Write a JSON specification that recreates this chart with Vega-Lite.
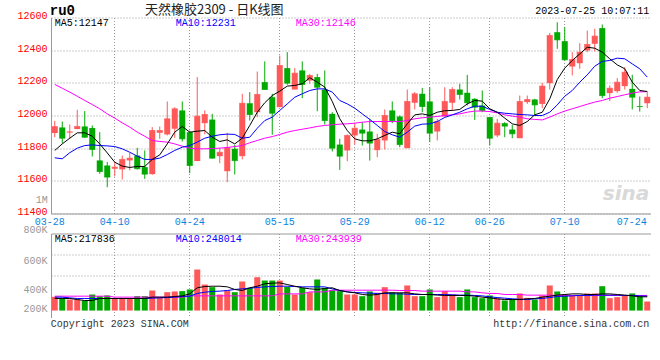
{
  "$schema": "https://vega.github.io/schema/vega-lite/v6.json",
  "background": "white",
  "padding": {"left": 16, "top": 3.5, "right": 0, "bottom": 0},
  "bounds": "flush",
  "spacing": 20,
  "config": {"view": {"stroke": null}, "text": {"font": "Liberation Mono", "fontSize": 10}},
  "datasets": {
    "k": [
      {"d":"03-28","o":11893,"h":11967,"l":11867,"c":11932,"m5":11786,"m10":11741,"m30":12190,"v":197000,"vm5":181000,"vm10":194000,"vm30":203000},
      {"d":"03-29","o":11927,"h":11963,"l":11829,"c":11861,"m5":11826,"m10":11735,"m30":12167,"v":187000,"vm5":181000,"vm10":194000,"vm30":203000},
      {"d":"03-30","o":11896,"h":11945,"l":11857,"c":11900,"m5":11861,"m10":11772,"m30":12143,"v":171000,"vm5":181000,"vm10":187000,"vm30":203000},
      {"d":"03-31","o":11917,"h":12035,"l":11916,"c":11933,"m5":11894,"m10":11800,"m30":12118,"v":171000,"vm5":171000,"vm10":181000,"vm30":203000},
      {"d":"04-03","o":11933,"h":12027,"l":11863,"c":11867,"m5":11894,"m10":11816,"m30":12092,"v":162000,"vm5":162000,"vm10":181000,"vm30":203000},
      {"d":"04-04","o":11923,"h":11939,"l":11749,"c":11792,"m5":11873,"m10":11820,"m30":12067,"v":219000,"vm5":162000,"vm10":181000,"vm30":203000},
      {"d":"04-06","o":11725,"h":11898,"l":11643,"c":11657,"m5":11826,"m10":11816,"m30":12041,"v":203000,"vm5":181000,"vm10":181000,"vm30":203000},
      {"d":"04-07","o":11694,"h":11715,"l":11561,"c":11623,"m5":11771,"m10":11814,"m30":12010,"v":210000,"vm5":181000,"vm10":181000,"vm30":203000},
      {"d":"04-10","o":11674,"h":11714,"l":11627,"c":11684,"m5":11714,"m10":11810,"m30":11984,"v":178000,"vm5":181000,"vm10":181000,"vm30":194000},
      {"d":"04-11","o":11670,"h":11755,"l":11608,"c":11731,"m5":11690,"m10":11796,"m30":11955,"v":178000,"vm5":181000,"vm10":181000,"vm30":194000},
      {"d":"04-12","o":11725,"h":11770,"l":11664,"c":11739,"m5":11682,"m10":11775,"m30":11929,"v":178000,"vm5":181000,"vm10":181000,"vm30":194000},
      {"d":"04-13","o":11755,"h":11802,"l":11670,"c":11674,"m5":11688,"m10":11751,"m30":11898,"v":203000,"vm5":181000,"vm10":181000,"vm30":194000},
      {"d":"04-14","o":11684,"h":11786,"l":11612,"c":11641,"m5":11688,"m10":11731,"m30":11873,"v":203000,"vm5":181000,"vm10":181000,"vm30":194000},
      {"d":"04-17","o":11641,"h":11929,"l":11637,"c":11908,"m5":11731,"m10":11731,"m30":11847,"v":257000,"vm5":194000,"vm10":184000,"vm30":194000},
      {"d":"04-18","o":11894,"h":11933,"l":11857,"c":11908,"m5":11759,"m10":11739,"m30":11841,"v":187000,"vm5":194000,"vm10":187000,"vm30":194000},
      {"d":"04-19","o":11884,"h":12086,"l":11878,"c":11980,"m5":11826,"m10":11761,"m30":11837,"v":241000,"vm5":194000,"vm10":190000,"vm30":194000},
      {"d":"04-20","o":11919,"h":12051,"l":11863,"c":12041,"m5":11898,"m10":11786,"m30":11826,"v":248000,"vm5":200000,"vm10":194000,"vm30":194000},
      {"d":"04-21","o":12031,"h":12086,"l":11841,"c":11857,"m5":11933,"m10":11806,"m30":11812,"v":251000,"vm5":206000,"vm10":200000,"vm30":194000},
      {"d":"04-24","o":11898,"h":11908,"l":11647,"c":11694,"m5":11898,"m10":11816,"m30":11800,"v":267000,"vm5":225000,"vm10":203000,"vm30":206000},
      {"d":"04-25","o":11721,"h":12235,"l":11721,"c":11996,"m5":11904,"m10":11837,"m30":11796,"v":457000,"vm5":283000,"vm10":229000,"vm30":206000},
      {"d":"04-26","o":11953,"h":12031,"l":11885,"c":12006,"m5":11908,"m10":11861,"m30":11796,"v":314000,"vm5":295000,"vm10":241000,"vm30":206000},
      {"d":"04-27","o":11975,"h":12010,"l":11735,"c":11739,"m5":11867,"m10":11873,"m30":11798,"v":289000,"vm5":298000,"vm10":248000,"vm30":206000},
      {"d":"04-28","o":11751,"h":11802,"l":11708,"c":11775,"m5":11841,"m10":11882,"m30":11800,"v":219000,"vm5":298000,"vm10":251000,"vm30":206000},
      {"d":"05-04","o":11659,"h":11894,"l":11592,"c":11802,"m5":11851,"m10":11886,"m30":11804,"v":257000,"vm5":292000,"vm10":257000,"vm30":206000},
      {"d":"05-05","o":11796,"h":11820,"l":11639,"c":11724,"m5":11826,"m10":11884,"m30":11810,"v":241000,"vm5":267000,"vm10":267000,"vm30":206000},
      {"d":"05-08","o":11751,"h":12133,"l":11731,"c":12075,"m5":11861,"m10":11861,"m30":11816,"v":343000,"vm5":257000,"vm10":273000,"vm30":206000},
      {"d":"05-09","o":12075,"h":12143,"l":11969,"c":12006,"m5":11939,"m10":11867,"m30":11833,"v":283000,"vm5":283000,"vm10":279000,"vm30":206000},
      {"d":"05-10","o":12020,"h":12269,"l":11990,"c":12129,"m5":12020,"m10":11922,"m30":11847,"v":384000,"vm5":298000,"vm10":286000,"vm30":206000},
      {"d":"05-11","o":12204,"h":12331,"l":12159,"c":12159,"m5":12078,"m10":11969,"m30":11861,"v":352000,"vm5":321000,"vm10":292000,"vm30":206000},
      {"d":"05-12","o":12112,"h":12133,"l":11882,"c":12014,"m5":12122,"m10":11990,"m30":11871,"v":352000,"vm5":327000,"vm10":295000,"vm30":206000},
      {"d":"05-15","o":12051,"h":12367,"l":12051,"c":12306,"m5":12149,"m10":12031,"m30":11884,"v":352000,"vm5":330000,"vm10":298000,"vm30":225000},
      {"d":"05-16","o":12290,"h":12388,"l":12188,"c":12198,"m5":12180,"m10":12071,"m30":11898,"v":292000,"vm5":314000,"vm10":298000,"vm30":225000},
      {"d":"05-17","o":12159,"h":12290,"l":12159,"c":12259,"m5":12184,"m10":12112,"m30":11908,"v":219000,"vm5":298000,"vm10":295000,"vm30":225000},
      {"d":"05-18","o":12276,"h":12331,"l":12106,"c":12190,"m5":12194,"m10":12133,"m30":11916,"v":283000,"vm5":283000,"vm10":292000,"vm30":225000},
      {"d":"05-19","o":12214,"h":12255,"l":12194,"c":12245,"m5":12231,"m10":12153,"m30":11924,"v":241000,"vm5":273000,"vm10":292000,"vm30":244000},
      {"d":"05-22","o":12235,"h":12255,"l":12026,"c":12173,"m5":12204,"m10":12163,"m30":11933,"v":362000,"vm5":267000,"vm10":292000,"vm30":244000},
      {"d":"05-23","o":12159,"h":12276,"l":11945,"c":11969,"m5":12174,"m10":12163,"m30":11939,"v":283000,"vm5":276000,"vm10":292000,"vm30":244000},
      {"d":"05-24","o":12010,"h":12020,"l":11780,"c":11800,"m5":12086,"m10":12143,"m30":11943,"v":260000,"vm5":283000,"vm10":273000,"vm30":260000},
      {"d":"05-25","o":11822,"h":11857,"l":11667,"c":11751,"m5":11980,"m10":12092,"m30":11947,"v":251000,"vm5":257000,"vm10":257000,"vm30":260000},
      {"d":"05-26","o":11786,"h":11884,"l":11720,"c":11878,"m5":11908,"m10":12071,"m30":11949,"v":219000,"vm5":244000,"vm10":244000,"vm30":260000},
      {"d":"05-29","o":11878,"h":11955,"l":11822,"c":11922,"m5":11857,"m10":12045,"m30":11953,"v":219000,"vm5":235000,"vm10":238000,"vm30":260000},
      {"d":"05-30","o":11914,"h":11959,"l":11816,"c":11892,"m5":11845,"m10":12010,"m30":11959,"v":203000,"vm5":219000,"vm10":235000,"vm30":260000},
      {"d":"05-31","o":11902,"h":11980,"l":11724,"c":11831,"m5":11845,"m10":11976,"m30":11963,"v":248000,"vm5":213000,"vm10":232000,"vm30":260000},
      {"d":"06-01","o":11788,"h":11888,"l":11745,"c":11853,"m5":11857,"m10":11939,"m30":11963,"v":235000,"vm5":219000,"vm10":229000,"vm30":260000},
      {"d":"06-02","o":11847,"h":12037,"l":11792,"c":12000,"m5":11878,"m10":11902,"m30":11963,"v":289000,"vm5":235000,"vm10":229000,"vm30":260000},
      {"d":"06-05","o":12031,"h":12086,"l":11953,"c":11969,"m5":11898,"m10":11882,"m30":11963,"v":241000,"vm5":235000,"vm10":225000,"vm30":260000},
      {"d":"06-06","o":11994,"h":12000,"l":11806,"c":11822,"m5":11888,"m10":11867,"m30":11963,"v":235000,"vm5":235000,"vm10":225000,"vm30":257000},
      {"d":"06-07","o":11800,"h":12159,"l":11800,"c":12086,"m5":11949,"m10":11898,"m30":11969,"v":305000,"vm5":235000,"vm10":222000,"vm30":257000},
      {"d":"06-08","o":12078,"h":12143,"l":12037,"c":12133,"m5":12004,"m10":11935,"m30":11980,"v":203000,"vm5":225000,"vm10":219000,"vm30":257000},
      {"d":"06-09","o":12133,"h":12169,"l":12020,"c":12055,"m5":12010,"m10":11947,"m30":11986,"v":203000,"vm5":219000,"vm10":219000,"vm30":251000},
      {"d":"06-12","o":12086,"h":12173,"l":11837,"c":11892,"m5":12000,"m10":11949,"m30":11990,"v":267000,"vm5":219000,"vm10":219000,"vm30":251000},
      {"d":"06-13","o":11902,"h":11980,"l":11847,"c":11963,"m5":12020,"m10":11963,"m30":11994,"v":194000,"vm5":213000,"vm10":219000,"vm30":251000},
      {"d":"06-14","o":11994,"h":12173,"l":11994,"c":12086,"m5":12029,"m10":11988,"m30":12000,"v":251000,"vm5":210000,"vm10":219000,"vm30":251000},
      {"d":"06-15","o":12078,"h":12173,"l":12031,"c":12159,"m5":12031,"m10":12004,"m30":12004,"v":219000,"vm5":210000,"vm10":216000,"vm30":251000},
      {"d":"06-16","o":12159,"h":12194,"l":12098,"c":12129,"m5":12037,"m10":12020,"m30":12010,"v":194000,"vm5":210000,"vm10":213000,"vm30":251000},
      {"d":"06-19","o":12139,"h":12249,"l":12061,"c":12078,"m5":12071,"m10":12041,"m30":12020,"v":267000,"vm5":210000,"vm10":213000,"vm30":244000},
      {"d":"06-20","o":12102,"h":12106,"l":11973,"c":12051,"m5":12092,"m10":12057,"m30":12027,"v":194000,"vm5":203000,"vm10":210000,"vm30":244000},
      {"d":"06-21","o":12061,"h":12153,"l":12020,"c":12031,"m5":12088,"m10":12057,"m30":12027,"v":184000,"vm5":194000,"vm10":206000,"vm30":235000},
      {"d":"06-26","o":11990,"h":11990,"l":11816,"c":11861,"m5":12041,"m10":12037,"m30":12024,"v":210000,"vm5":187000,"vm10":197000,"vm30":229000},
      {"d":"06-27","o":11878,"h":11980,"l":11867,"c":11953,"m5":12020,"m10":12020,"m30":12016,"v":181000,"vm5":178000,"vm10":190000,"vm30":229000},
      {"d":"06-28","o":11953,"h":11959,"l":11867,"c":11935,"m5":11984,"m10":12014,"m30":12004,"v":162000,"vm5":171000,"vm10":184000,"vm30":219000},
      {"d":"06-29","o":11914,"h":11943,"l":11861,"c":11888,"m5":11949,"m10":12010,"m30":11996,"v":171000,"vm5":171000,"vm10":178000,"vm30":219000},
      {"d":"06-30","o":11861,"h":12122,"l":11861,"c":12086,"m5":11939,"m10":12006,"m30":11990,"v":229000,"vm5":171000,"vm10":174000,"vm30":219000},
      {"d":"07-03","o":12082,"h":12122,"l":12071,"c":12098,"m5":11963,"m10":12004,"m30":11980,"v":187000,"vm5":178000,"vm10":171000,"vm30":213000},
      {"d":"07-04","o":12098,"h":12102,"l":12004,"c":12065,"m5":12004,"m10":12000,"m30":11976,"v":171000,"vm5":181000,"vm10":178000,"vm30":213000},
      {"d":"07-05","o":12071,"h":12200,"l":12045,"c":12180,"m5":12020,"m10":12000,"m30":11973,"v":210000,"vm5":194000,"vm10":181000,"vm30":213000},
      {"d":"07-06","o":12198,"h":12506,"l":12159,"c":12490,"m5":12102,"m10":12020,"m30":11990,"v":305000,"vm5":203000,"vm10":190000,"vm30":213000},
      {"d":"07-07","o":12510,"h":12571,"l":12408,"c":12463,"m5":12220,"m10":12065,"m30":12010,"v":248000,"vm5":213000,"vm10":200000,"vm30":210000},
      {"d":"07-10","o":12455,"h":12541,"l":12337,"c":12341,"m5":12290,"m10":12118,"m30":12027,"v":219000,"vm5":219000,"vm10":203000,"vm30":210000},
      {"d":"07-11","o":12300,"h":12388,"l":12245,"c":12343,"m5":12337,"m10":12153,"m30":12041,"v":210000,"vm5":225000,"vm10":206000,"vm30":210000},
      {"d":"07-12","o":12320,"h":12443,"l":12286,"c":12388,"m5":12377,"m10":12204,"m30":12055,"v":210000,"vm5":225000,"vm10":210000,"vm30":210000},
      {"d":"07-13","o":12398,"h":12520,"l":12388,"c":12435,"m5":12418,"m10":12249,"m30":12069,"v":229000,"vm5":219000,"vm10":210000,"vm30":210000},
      {"d":"07-14","o":12439,"h":12531,"l":12392,"c":12486,"m5":12412,"m10":12302,"m30":12082,"v":229000,"vm5":219000,"vm10":213000,"vm30":210000},
      {"d":"07-17","o":12535,"h":12557,"l":12106,"c":12122,"m5":12388,"m10":12331,"m30":12092,"v":298000,"vm5":225000,"vm10":213000,"vm30":210000},
      {"d":"07-18","o":12137,"h":12184,"l":12088,"c":12167,"m5":12347,"m10":12337,"m30":12106,"v":184000,"vm5":225000,"vm10":213000,"vm30":210000},
      {"d":"07-19","o":12149,"h":12229,"l":12139,"c":12204,"m5":12310,"m10":12351,"m30":12116,"v":194000,"vm5":219000,"vm10":213000,"vm30":210000},
      {"d":"07-20","o":12180,"h":12296,"l":12159,"c":12265,"m5":12286,"m10":12347,"m30":12127,"v":210000,"vm5":213000,"vm10":210000,"vm30":210000},
      {"d":"07-21","o":12163,"h":12249,"l":12037,"c":12112,"m5":12204,"m10":12316,"m30":12137,"v":229000,"vm5":206000,"vm10":210000,"vm30":210000},
      {"d":"07-24","o":12057,"h":12116,"l":12024,"c":12055,"m5":12153,"m10":12286,"m30":12145,"v":203000,"vm5":197000,"vm10":206000,"vm30":210000},
      {"d":"07-25","o":12075,"h":12143,"l":12045,"c":12112,"m5":12147,"m10":12235,"m30":12146,"v":152000,"vm5":197000,"vm10":203000,"vm30":210000}
    ]
  },
  "vconcat": [
    {
      "width": 600,
      "height": 196,
      "data": {"name": "k"},
      "encoding": {
        "x": {
          "field": "d", "type": "ordinal",
          "scale": {"type": "band", "paddingInner": 0, "paddingOuter": 0},
          "axis": {
            "values": ["03-28","04-10","04-24","05-15","05-29","06-12","06-26","07-10","07-24"],
            "title": null, "labelAngle": 0, "ticks": false, "bandPosition": 0.5,
            "grid": true, "gridDash": [1, 2], "gridColor": "#999",
            "gridOpacity": {"condition": {"test": "datum.value == '03-28' || datum.value == '07-24'", "value": 0}, "value": 1},
            "domainColor": "#999",
            "labelColor": "#0b84e0", "labelFont": "Liberation Mono", "labelFontSize": 10, "labelPadding": 3,
            "labelOverlap": false,
            "labelOffset": {"condition": [{"test": "datum.value == '03-28'", "value": -5}, {"test": "datum.value == '07-24'", "value": -8}], "value": 0}
          }
        }
      },
      "layer": [
        {
          "mark": {"type": "rule", "strokeWidth": 1},
          "encoding": {
            "y": {"field": "l", "type": "quantitative",
              "scale": {"domain": [11400, 12600], "nice": false, "zero": false},
              "axis": {"values": [11400, 11600, 11800, 12000, 12200, 12400, 12600], "format": "d", "title": null, "ticks": false,
                "grid": true, "gridDash": [1, 2], "gridColor": "#999",
                "domainColor": "#999", "labelColor": "#ff0000", "labelFont": "Liberation Mono", "labelFontSize": 10,
                "labelPadding": 4, "labelOffset": -2, "labelOverlap": false}},
            "y2": {"field": "h"},
            "color": {"condition": {"test": "datum.c >= datum.o", "value": "#ff5858"}, "value": "#00a800"}
          }
        },
        {
          "mark": {"type": "bar", "width": {"band": 0.8}},
          "encoding": {
            "y": {"field": "o", "type": "quantitative", "axis": null},
            "y2": {"field": "c"},
            "color": {"condition": {"test": "datum.c >= datum.o", "value": "#ff5858"}, "value": "#00a800"}
          }
        },
        {
          "mark": {"type": "tick", "thickness": 1, "size": 6},
          "encoding": {
            "y": {"field": "c", "type": "quantitative", "axis": null},
            "color": {"condition": {"test": "datum.c >= datum.o", "value": "#ff5858"}, "value": "#00a800"}
          }
        },
        {
          "mark": {"type": "line", "strokeWidth": 1, "color": "#ff00ff"},
          "encoding": {
            "y": {"field": "m30", "type": "quantitative",
              "axis": {"orient": "right", "labels": false, "ticks": false, "grid": false, "domain": true, "domainColor": "#999", "title": null}}
          }
        },
        {
          "mark": {"type": "line", "strokeWidth": 1, "color": "#0000ff"},
          "encoding": {"y": {"field": "m10", "type": "quantitative", "axis": null}}
        },
        {
          "mark": {"type": "line", "strokeWidth": 1, "color": "#000000"},
          "encoding": {"y": {"field": "m5", "type": "quantitative", "axis": null}}
        },
        {
          "data": {"values": [{}]},
          "mark": {"type": "text", "text": "ru0", "align": "left", "baseline": "middle", "dx": -5, "dy": -7, "fontSize": 14, "fontWeight": "bold", "color": "#000"},
          "encoding": {"x": {"datum": "03-28"}, "y": {"datum": 12600, "axis": null}}
        },
        {
          "data": {"values": [{}]},
          "mark": {"type": "text", "text": "天然橡胶2309 - 日K线图", "align": "center", "baseline": "middle", "dx": 2, "dy": -8, "font": "Noto Sans CJK SC", "fontSize": 13, "color": "#222"},
          "encoding": {"x": {"datum": "04-27"}, "y": {"datum": 12600, "axis": null}}
        },
        {
          "data": {"values": [{}]},
          "mark": {"type": "text", "text": "2023-07-25 10:07:11", "align": "right", "baseline": "middle", "dx": 2, "dy": -6.5, "color": "#000"},
          "encoding": {"x": {"datum": "07-25"}, "y": {"datum": 12600, "axis": null}}
        },
        {
          "data": {"values": [{}]},
          "mark": {"type": "text", "text": "MA5:12147", "align": "left", "baseline": "middle", "dx": 0, "dy": 5.5, "color": "#000"},
          "encoding": {"x": {"datum": "03-28"}, "y": {"datum": 12600, "axis": null}}
        },
        {
          "data": {"values": [{}]},
          "mark": {"type": "text", "text": "MA10:12231", "align": "left", "baseline": "middle", "dx": 1, "dy": 5.5, "color": "#0000ff"},
          "encoding": {"x": {"datum": "04-20"}, "y": {"datum": 12600, "axis": null}}
        },
        {
          "data": {"values": [{}]},
          "mark": {"type": "text", "text": "MA30:12146", "align": "left", "baseline": "middle", "dx": 1, "dy": 5.5, "color": "#ff00ff"},
          "encoding": {"x": {"datum": "05-17"}, "y": {"datum": 12600, "axis": null}}
        },
        {
          "data": {"values": [{}]},
          "mark": {"type": "text", "text": "sina", "align": "right", "baseline": "middle", "dx": 2, "dy": -20, "font": "DejaVu Sans", "fontSize": 20, "fontWeight": "bold", "fontStyle": "italic", "color": "#d9d9d9"},
          "encoding": {"x": {"datum": "07-25"}, "y": {"datum": 11400, "axis": null}}
        }
      ],
      "resolve": {"axis": {"y": "independent"}}
    },
    {
      "width": 600,
      "height": 84,
      "data": {"name": "k"},
      "encoding": {
        "x": {"field": "d", "type": "ordinal", "scale": {"type": "band", "paddingInner": 0, "paddingOuter": 0}}
      },
      "layer": [
        {
          "mark": {"type": "bar", "width": {"band": 0.8}},
          "encoding": {
            "x": {"field": "d", "type": "ordinal",
              "axis": {"values": ["03-28","04-10","04-24","05-15","05-29","06-12","06-26","07-10","07-24"],
                "title": null, "labels": false, "ticks": false, "domain": false, "bandPosition": 0.5,
                "grid": true, "gridDash": [1, 2], "gridColor": "#999",
                "gridOpacity": {"condition": {"test": "datum.value == '03-28' || datum.value == '07-24'", "value": 0}, "value": 1}}},
            "y": {"field": "v", "type": "quantitative",
              "scale": {"domain": [0, 800000], "nice": false, "zero": false},
              "axis": {"values": [200000, 400000, 600000, 800000], "title": null, "ticks": false,
                "labelExpr": "(datum.value / 1000) + 'K'",
                "grid": true, "gridDash": [1, 2], "gridColor": "#999",
                "gridOpacity": {"condition": {"test": "datum.value == 400000 || datum.value == 600000", "value": 1}, "value": 0},
                "domainColor": "#999", "labelColor": "#999", "labelFont": "Liberation Mono", "labelFontSize": 10,
                "labelPadding": 4, "labelOverlap": false,
                "labelOffset": {"condition": [{"test": "datum.value == 800000", "value": -4}, {"test": "datum.value == 600000", "value": 6}, {"test": "datum.value == 400000", "value": 14}], "value": 12}}},
            "y2": {"datum": 66000},
            "color": {"condition": {"test": "datum.c >= datum.o", "value": "#ff5858"}, "value": "#00a800"}
          }
        },
        {
          "mark": {"type": "line", "strokeWidth": 1, "color": "#ff00ff"},
          "encoding": {
            "x": {"field": "d", "type": "ordinal",
              "axis": {"orient": "top", "labels": false, "ticks": false, "grid": false, "domain": true, "domainColor": "#999", "title": null}},
            "y": {"field": "vm30", "type": "quantitative",
              "axis": {"orient": "right", "labels": false, "ticks": false, "grid": false, "domain": true, "domainColor": "#999", "title": null}}
          }
        },
        {
          "mark": {"type": "line", "strokeWidth": 1, "color": "#0000ff"},
          "encoding": {"x": {"field": "d", "type": "ordinal", "axis": null}, "y": {"field": "vm10", "type": "quantitative", "axis": null}}
        },
        {
          "mark": {"type": "line", "strokeWidth": 1, "color": "#000000"},
          "encoding": {"x": {"field": "d", "type": "ordinal", "axis": null}, "y": {"field": "vm5", "type": "quantitative", "axis": null}}
        },
        {
          "data": {"values": [{}]},
          "mark": {"type": "text", "text": "MA5:217836", "align": "left", "baseline": "middle", "dx": 0, "dy": 5, "color": "#000"},
          "encoding": {"x": {"datum": "03-28", "axis": null}, "y": {"datum": 800000, "axis": null}}
        },
        {
          "data": {"values": [{}]},
          "mark": {"type": "text", "text": "MA10:248014", "align": "left", "baseline": "middle", "dx": 1, "dy": 5, "color": "#0000ff"},
          "encoding": {"x": {"datum": "04-20", "axis": null}, "y": {"datum": 800000, "axis": null}}
        },
        {
          "data": {"values": [{}]},
          "mark": {"type": "text", "text": "MA30:243939", "align": "left", "baseline": "middle", "dx": 1, "dy": 5, "color": "#ff00ff"},
          "encoding": {"x": {"datum": "05-17", "axis": null}, "y": {"datum": 800000, "axis": null}}
        },
        {
          "data": {"values": [{}]},
          "mark": {"type": "text", "text": "1M", "align": "right", "baseline": "middle", "dx": -7, "dy": -13, "color": "#999"},
          "encoding": {"x": {"datum": "03-28", "axis": null}, "y": {"datum": 1000000, "axis": null}}
        },
        {
          "data": {"values": [{}]},
          "mark": {"type": "text", "text": "Copyright 2023 SINA.COM", "align": "left", "baseline": "middle", "dx": -4, "dy": 6, "color": "#333"},
          "encoding": {"x": {"datum": "03-28", "axis": null}, "y": {"datum": 0, "axis": null}}
        },
        {
          "data": {"values": [{}]},
          "mark": {"type": "text", "text": "http://finance.sina.com.cn", "align": "right", "baseline": "middle", "dx": 2, "dy": 6, "color": "#333"},
          "encoding": {"x": {"datum": "07-25", "axis": null}, "y": {"datum": 0, "axis": null}}
        }
      ],
      "resolve": {"axis": {"x": "independent", "y": "independent"}}
    }
  ]
}
